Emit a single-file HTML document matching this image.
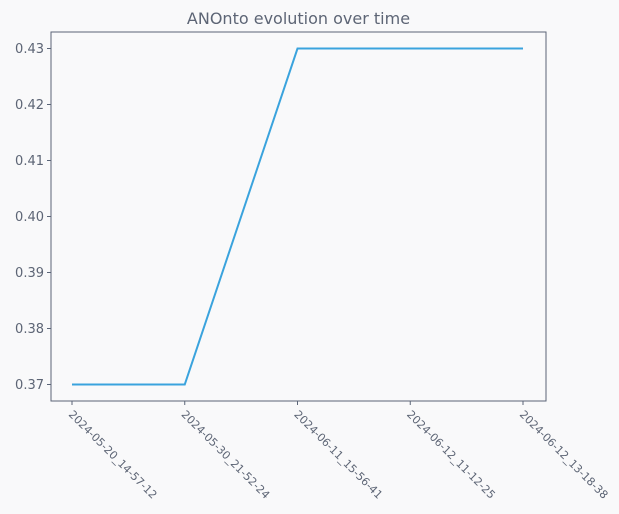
<!DOCTYPE html>
<html><head><meta charset="utf-8"><style>
body{margin:0;background:#f9f9fa;}
svg{display:block;font-family:"DejaVu Sans","Liberation Sans",sans-serif;}
</style></head><body>
<svg id="chart" width="619" height="514" viewBox="0 0 619 514">
<rect width="619" height="514" fill="#f9f9fa"/>
<text x="298.5" y="24" text-anchor="middle" font-size="16" fill="#5d6575">ANOnto evolution over time</text>
<g id="plot"></g>
</svg>
<script>
const categories=["2024-05-20_14-57-12","2024-05-30_21-52-24","2024-06-11_15-56-41","2024-06-12_11-12-25","2024-06-12_13-18-38"];
const values=[0.37,0.37,0.43,0.43,0.43];
const yTicks=[0.37,0.38,0.39,0.40,0.41,0.42,0.43];
const NS="http://www.w3.org/2000/svg";
const L=51,R=546,T=32,B=401;
const x0=72,xStep=112.75;
function xs(i){return x0+i*xStep;}
function ys(v){return 384.5-(v-0.37)/0.01*56;}
const g=document.getElementById('plot');
function mk(t,a){const e=document.createElementNS(NS,t);for(const k in a)e.setAttribute(k,a[k]);g.appendChild(e);return e;}
const frame=mk('rect',{x:L,y:T,width:R-L,height:B-T,fill:'#f9f9fa',stroke:'#5a6477','stroke-width':1});


yTicks.forEach(v=>{
  const y=ys(v);
  const tk=mk('line',{x1:L-4,x2:L,y1:y,y2:y,stroke:'#5a6477'});
  
  
  const t=mk('text',{x:L-7,y:y+4.5,'text-anchor':'end','font-size':13,fill:'#5d6575'});
  t.textContent=v.toFixed(2);
  
  
});
categories.forEach((c,i)=>{
  const x=xs(i);
  const tk=mk('line',{x1:x,x2:x,y1:B,y2:B+4,stroke:'#5a6477'});
  
  
  const t=mk('text',{x:x-4,y:B+14,'font-size':11,fill:'#5d6575',transform:`rotate(45 ${x-4} ${B+14})`});
  t.textContent=c;
  
  
});
const pts=values.map((v,i)=>xs(i)+','+ys(v)).join(' ');
const line=mk('polyline',{points:pts,fill:'none',stroke:'#3aa3dd','stroke-width':2});


</script>
</body></html>
